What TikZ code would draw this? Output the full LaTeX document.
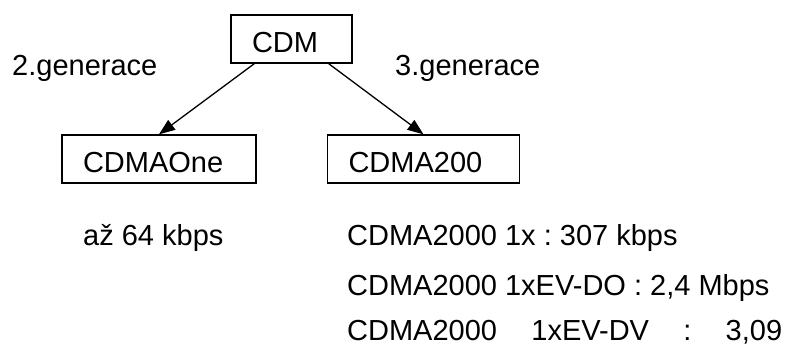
\documentclass[tikz,border=0pt]{standalone}
\usepackage{fontspec}
\setmainfont{Liberation Sans}
\usetikzlibrary{arrows.meta}
\begin{document}
\frenchspacing
\begin{tikzpicture}[x=1pt,y=-1pt,
  every node/.style={font=\fontsize{29}{34}\selectfont\frenchspacing},
  box/.style={draw, line width=1.3pt, inner xsep=21pt, inner ysep=0pt,
    minimum height=48pt, align=left, text height=27pt, text depth=0pt},
  lbl/.style={anchor=base west, inner sep=0pt},
  conn/.style={line width=1.3pt, -{Triangle[length=16pt,width=12pt]}}]
\useasboundingbox (0,0) rectangle (789,345);
\node[box, text width=79pt] (cdm) at (291.5,39) {CDM};
\node[box, text width=152pt] (one) at (159,159) {CDMAOne};
\node[box, text width=150pt] (two) at (423.5,159) {CDMA200};
\draw[conn] ([xshift=24pt]cdm.south west) -- (one.north);
\draw[conn] ([xshift=-24pt]cdm.south east) -- (two.north);
\node[lbl] (g2) at (12,75) {2.generace};
\node[lbl] (g3) at (395,75) {3.generace};
\node[lbl] (r1) at (83,245) {až 64 kbps};
\node[lbl] (r2) at (347,245) {CDMA2000 1x : 307 kbps};
\node[lbl] (r3) at (347,295) {CDMA2000 1xEV-DO : 2,4 Mbps};
\node[lbl] (r4) at (347,340) {\hbox to 435pt{CDMA2000\hfill 1xEV-DV\hfill :\hfill 3,09}};
\end{tikzpicture}
\end{document}
